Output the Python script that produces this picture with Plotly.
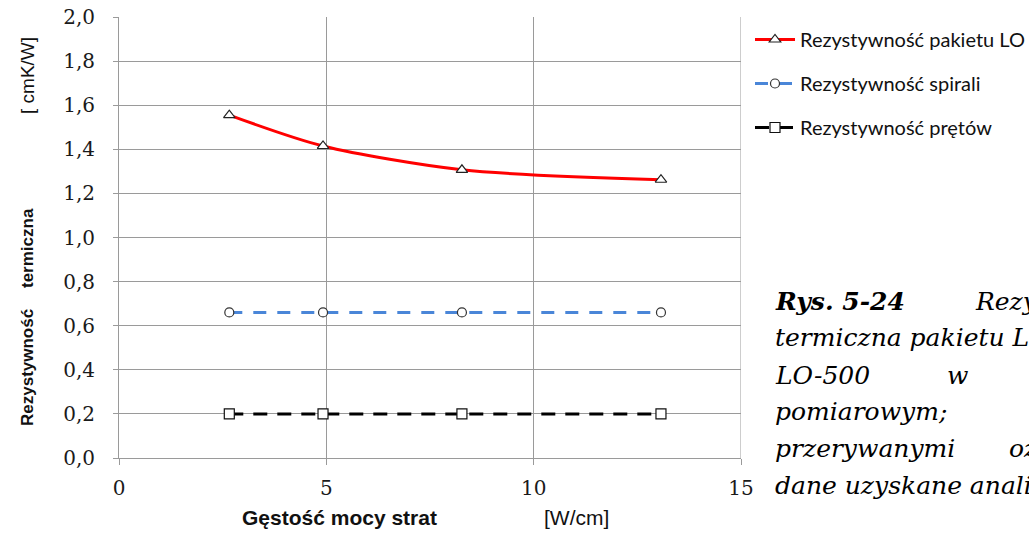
import plotly.graph_objects as go

# Power loss density [W/cm]
gestosc = [2.66, 4.92, 8.27, 13.07]
# Thermal resistivity [cmK/W]
rez_pakietu = [1.555, 1.415, 1.307, 1.262]
rez_spirali = [0.66, 0.66, 0.66, 0.66]
rez_pretow = [0.20, 0.20, 0.20, 0.20]

nazwy = ["Rezystywność pakietu LO", "Rezystywność spirali", "Rezystywność prętów"]
y_ticks = [0.0, 0.2, 0.4, 0.6, 0.8, 1.0, 1.2, 1.4, 1.6, 1.8, 2.0]
x_ticks = [0, 5, 10, 15]

FIG_W, FIG_H = 1029, 534
L, R, T, B = 119, 741, 17, 458


def px(x):
    return (x - L) / (R - L)


def py(y):
    return (B - y) / (B - T)


fig = go.Figure()
fig.add_trace(go.Scatter(
    x=gestosc, y=rez_pakietu, name=nazwy[0], mode="lines+markers",
    line=dict(color="#ff0000", width=3, shape="spline", smoothing=0.8),
    marker=dict(symbol="triangle-up", size=10, color="white",
                line=dict(color="#222222", width=1.2)),
    legendgroup="a",
))
fig.add_trace(go.Scatter(
    x=gestosc, y=rez_spirali, name=nazwy[1], mode="lines+markers",
    line=dict(color="#4a86d8", width=3, dash="13px,11px"),
    marker=dict(symbol="circle", size=9, color="white",
                line=dict(color="#333333", width=1.2)),
    legendgroup="b",
))
fig.add_trace(go.Scatter(
    x=gestosc, y=rez_pretow, name=nazwy[2], mode="lines+markers",
    line=dict(color="#000000", width=3, dash="14px,10px"),
    marker=dict(symbol="square", size=10, color="white",
                line=dict(color="#111111", width=1.2)),
    legendgroup="c",
))

grid = "#9a9a9a"
tick_font = dict(family="DejaVu Serif", size=20, color="#1a1a1a")

fig.update_layout(
    xaxis=dict(
        range=[0, 15], tickvals=x_ticks, ticktext=[str(v) for v in x_ticks],
        showgrid=True, gridcolor=grid, gridwidth=1,
        showline=True, linecolor=grid, linewidth=1,
        ticks="outside", ticklen=6, tickcolor=grid,
        tickfont=tick_font, ticklabelstandoff=6,
        zeroline=False, fixedrange=True,
    ),
    yaxis=dict(
        range=[0, 2.0], tickvals=y_ticks,
        ticktext=[f"{v:.1f}".replace(".", ",") for v in y_ticks],
        showgrid=True, gridcolor=grid, gridwidth=1,
        showline=True, linecolor=grid, linewidth=1,
        ticks="outside", ticklen=5, tickcolor=grid,
        tickfont=tick_font, ticklabelstandoff=14,
        zeroline=False, fixedrange=True,
    ),
)

# right border of the plot area at x = 15
fig.add_shape(type="line", xref="x", yref="paper", x0=15, x1=15, y0=0, y1=1,
              line=dict(color=grid, width=1))

title_font = dict(family="Liberation Sans", size=17, color="#111")
x_title_font = dict(family="Liberation Sans", size=21, color="#111")
annotations = [
    dict(text="<b>Rezystywność</b>", x=px(27), y=py(368), textangle=-90, font=title_font),
    dict(text="<b>termiczna</b>", x=px(27), y=py(248), textangle=-90, font=title_font),
    dict(text="[ cmK/W]", x=px(27), y=py(76), textangle=-90,
         font=dict(family="Liberation Sans", size=19, color="#111")),
    dict(text="<b>Gęstość mocy strat</b>", x=px(339), y=py(517), font=x_title_font),
    dict(text="[W/cm]", x=px(576), y=py(517), font=x_title_font),
]

cap_font = dict(family="DejaVu Serif", size=25, color="#000")
caption = [
    ("<b><i>Rys. 5-24</i></b>", 773, 301),
    ("<i>Rezystywność</i>", 973, 301),
    ("<i>termiczna pakietu LO</i>", 773, 338),
    ("<i>LO-500</i>", 773, 375),
    ("<i>w</i>", 945, 375),
    ("<i>pomiarowym;</i>", 773, 411),
    ("<i>przerywanymi</i>", 773, 448),
    ("<i>oznaczono</i>", 1007, 448),
    ("<i>dane uzyskane analitycznie</i>", 773, 485),
]
for txt, x, y in caption:
    annotations.append(dict(text=txt, x=px(x), y=py(y), xanchor="left",
                            font=cap_font))

for a in annotations:
    a.setdefault("xanchor", "center")
    a.update(xref="paper", yref="paper", yanchor="middle", showarrow=False)

fig.update_layout(
    width=FIG_W, height=FIG_H,
    margin=dict(l=L, r=FIG_W - R, t=T, b=FIG_H - B, autoexpand=False),
    paper_bgcolor="white", plot_bgcolor="white",
    annotations=annotations,
    showlegend=True,
    legend=dict(x=px(750), y=py(20), xanchor="left", yanchor="top",
                font=dict(family="Lato", size=20, color="#111"),
                tracegroupgap=15, itemwidth=40,
                bgcolor="rgba(0,0,0,0)"),
)

fig.write_html("out.html")
